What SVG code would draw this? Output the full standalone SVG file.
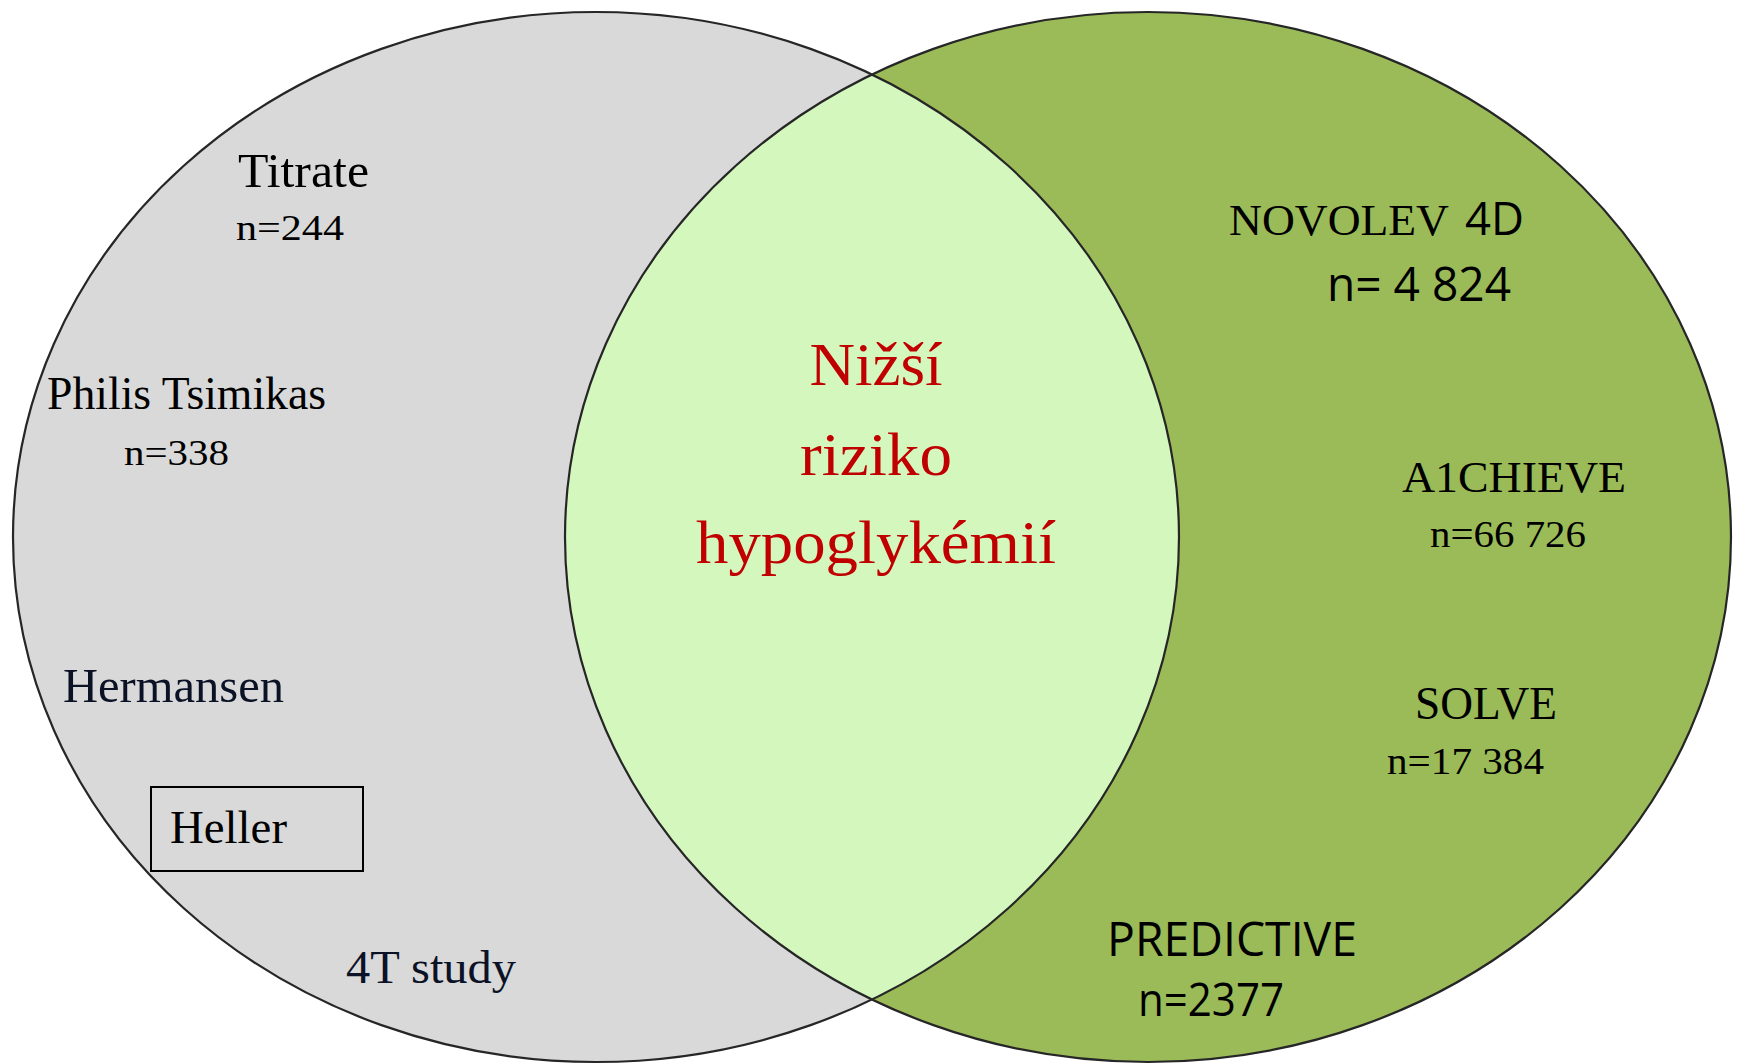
<svg xmlns="http://www.w3.org/2000/svg" width="1738" height="1064" viewBox="0 0 1738 1064">
<style>
.serif{font-family:"Liberation Serif","Times New Roman",serif;fill:#000}
.sans{font-family:"Open Sans","Liberation Sans",Arial,sans-serif;fill:#000}
.navy{fill:#0b1226}
.red{font-family:"Liberation Serif","Times New Roman",serif;fill:#c00000;font-size:62px;text-anchor:middle}
.ring{fill:none;stroke:#262626;stroke-width:2.2}
</style>
<defs>
<clipPath id="clipLeft"><ellipse cx="596" cy="537" rx="583" ry="525"/></clipPath>
</defs>
<rect width="1738" height="1064" fill="#ffffff"/>
<g id="set-left">
<ellipse cx="596" cy="537" rx="583" ry="525" fill="#d9d9d9"/>
</g>
<g id="set-right">
<ellipse cx="1148" cy="537" rx="583" ry="525" fill="#9bbb59"/>
</g>
<g id="intersection">
<ellipse cx="1148" cy="537" rx="583" ry="525" fill="#d4f7be" clip-path="url(#clipLeft)"/>
</g>
<g id="outlines">
<ellipse class="ring" cx="596" cy="537" rx="583" ry="525"/>
<ellipse class="ring" cx="1148" cy="537" rx="583" ry="525"/>
</g>
<g id="label-titrate">
<text class="serif" x="238" y="187" font-size="48" textLength="131" lengthAdjust="spacingAndGlyphs">Titrate</text>
<text class="serif" x="236" y="240" font-size="35" textLength="108" lengthAdjust="spacingAndGlyphs">n=244</text>
</g>
<g id="label-philis">
<text class="serif" x="47" y="409" font-size="46" textLength="279" lengthAdjust="spacingAndGlyphs">Philis Tsimikas</text>
<text class="serif" x="124" y="465" font-size="35" textLength="105" lengthAdjust="spacingAndGlyphs">n=338</text>
</g>
<g id="label-hermansen">
<text class="serif navy" x="63" y="702" font-size="48" textLength="221" lengthAdjust="spacingAndGlyphs">Hermansen</text>
</g>
<g id="label-heller">
<rect x="151" y="787" width="212" height="84" fill="none" stroke="#000" stroke-width="2"/>
<text class="serif" x="170" y="843" font-size="46" textLength="117" lengthAdjust="spacingAndGlyphs">Heller</text>
</g>
<g id="label-4t">
<text class="serif navy" x="346" y="983" font-size="47" textLength="170" lengthAdjust="spacingAndGlyphs">4T study</text>
</g>
<g id="label-center">
<text class="red" x="876" y="385" textLength="133" lengthAdjust="spacingAndGlyphs">Nižší</text>
<text class="red" x="876" y="475" textLength="152" lengthAdjust="spacingAndGlyphs">riziko</text>
<text class="red" x="876" y="563" textLength="360" lengthAdjust="spacingAndGlyphs">hypoglykémií</text>
</g>
<g id="label-novolev">
<text class="serif" x="1229" y="235" font-size="45" textLength="220" lengthAdjust="spacingAndGlyphs">NOVOLEV</text>
<text class="sans" x="1465" y="235" font-size="46" textLength="59" lengthAdjust="spacingAndGlyphs">4D</text>
<text class="sans" x="1327" y="301" font-size="47" textLength="184" lengthAdjust="spacingAndGlyphs">n= 4 824</text>
</g>
<g id="label-a1chieve">
<text class="serif" x="1402" y="492" font-size="45" textLength="224" lengthAdjust="spacingAndGlyphs">A1CHIEVE</text>
<text class="serif" x="1430" y="547" font-size="37" textLength="156" lengthAdjust="spacingAndGlyphs">n=66 726</text>
</g>
<g id="label-solve">
<text class="serif" x="1415" y="719" font-size="46" textLength="142" lengthAdjust="spacingAndGlyphs">SOLVE</text>
<text class="serif" x="1387" y="774" font-size="38" textLength="157" lengthAdjust="spacingAndGlyphs">n=17 384</text>
</g>
<g id="label-predictive">
<text class="sans" x="1107" y="956" font-size="48" textLength="250" lengthAdjust="spacingAndGlyphs">PREDICTIVE</text>
<text class="sans" x="1138" y="1016" font-size="46" textLength="146" lengthAdjust="spacingAndGlyphs">n=2377</text>
</g>
</svg>
